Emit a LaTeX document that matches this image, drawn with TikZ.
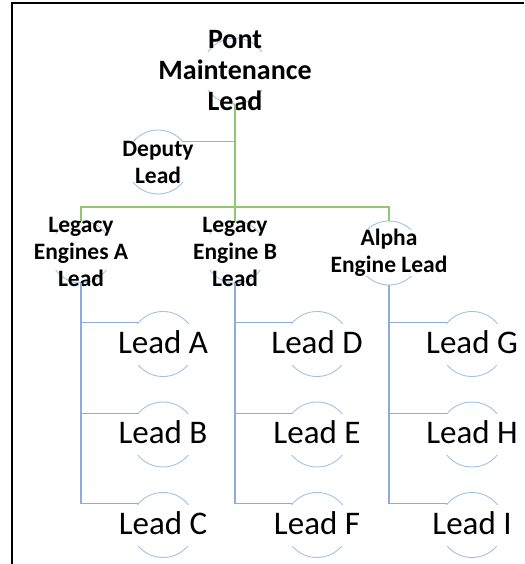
\documentclass[tikz,border=0pt]{standalone}
\usepackage{fontspec}
\setmainfont{Carlito}
\definecolor{ringblue}{HTML}{9DC3E6}
\definecolor{linkblue}{HTML}{8FAADC}
\definecolor{linkgreen}{HTML}{92C66F}
\begin{document}
\begin{tikzpicture}[x=1pt, y=-1pt,
    ring/.style={circle, draw=ringblue, line width=0.9pt, minimum size=#1, inner sep=0pt},
    mask/.style 2 args={fill=white, minimum width=#1, minimum height=#2, inner sep=0pt},
    head/.style={align=center, inner sep=0pt, font=\bfseries\fontsize{23.5}{27}\selectfont},
    lead/.style={fill=white, inner sep=0pt, text height=29.5pt, text depth=11.5pt,
      font=\fontsize{33}{40}\selectfont},
    green link/.style={draw=linkgreen, line width=1.3pt},
    blue link/.style={draw=linkblue, line width=1.3pt}]
  \useasboundingbox (0,0) rectangle (524,564);
  \draw[line width=2pt] (12,564) -- (12,3) -- (524,3);

  % top and deputy
  \node[ring=66pt] (pm) at (235,71) {};
  \node[mask={160pt}{38pt}] (pm-m) at (pm) {};
  \node[head, font=\bfseries\fontsize{28}{31}\selectfont] (pm-t) at (pm) {Pont\\Maintenance\\Lead};
  \node[ring=64pt] (dep) at (158,162) {};
  \node[mask={80pt}{40pt}] (dep-m) at (dep) {};
  \node[head] (dep-t) at (dep) {Deputy\\Lead};

  % second row
  \node[ring=62pt] (lga) at (81,252) {};
  \node[mask={80pt}{36pt}] (lga-m) at (lga) {};
  \node[head] (lga-t) at (lga) {Legacy\\Engines A\\Lead};
  \node[ring=62pt] (lgb) at (235,252) {};
  \node[mask={80pt}{36pt}] (lgb-m) at (lgb) {};
  \node[head] (lgb-t) at (lgb) {Legacy\\Engine B\\Lead};
  \node[ring=64pt] (alp) at (389,253) {};
  \node[mask={80pt}{46pt}] (alp-m) at (alp) {};
  \node[head] (alp-t) at (alp) {Alpha\\Engine Lead};

  % leads
  \node[ring=65pt] (lda) at (163,344) {};
  \node[lead] (lda-t) at (lda) {Lead A};
  \node[ring=65pt] (ldb) at (163,434.5) {};
  \node[lead] (ldb-t) at (ldb) {Lead B};
  \node[ring=65pt] (ldc) at (163,525) {};
  \node[lead] (ldc-t) at (ldc) {Lead C};
  \node[ring=65pt] (ldd) at (317,344) {};
  \node[lead] (ldd-t) at (ldd) {Lead D};
  \node[ring=65pt] (lde) at (317,434.5) {};
  \node[lead] (lde-t) at (lde) {Lead E};
  \node[ring=65pt] (ldf) at (317,525) {};
  \node[lead] (ldf-t) at (ldf) {Lead F};
  \node[ring=65pt] (ldg) at (472,344) {};
  \node[lead] (ldg-t) at (ldg) {Lead G};
  \node[ring=65pt] (ldh) at (472,434.5) {};
  \node[lead] (ldh-t) at (ldh) {Lead H};
  \node[ring=65pt] (ldi) at (472,525) {};
  \node[lead] (ldi-t) at (ldi) {Lead I};

  % links
  \coordinate (bar) at (235,207);
  \draw[green link] (pm.south) -- (bar);
  \draw[green link] (pm.south) |- (dep.39);
  \draw[green link] (bar) -| (lga.north);
  \draw[green link] (bar) -- (lgb.north);
  \draw[green link] (bar) -| (alp.north);
  \draw[blue link] (lga.south) |- (lda.140);
  \draw[blue link] (lga.south) |- (ldb.140);
  \draw[blue link] (lga.south) |- (ldc.140);
  \draw[blue link] (lgb.south) |- (ldd.140);
  \draw[blue link] (lgb.south) |- (lde.140);
  \draw[blue link] (lgb.south) |- (ldf.140);
  \draw[blue link] (alp.south) |- (ldg.140);
  \draw[blue link] (alp.south) |- (ldh.140);
  \draw[blue link] (alp.south) |- (ldi.140);
\end{tikzpicture}
\end{document}
